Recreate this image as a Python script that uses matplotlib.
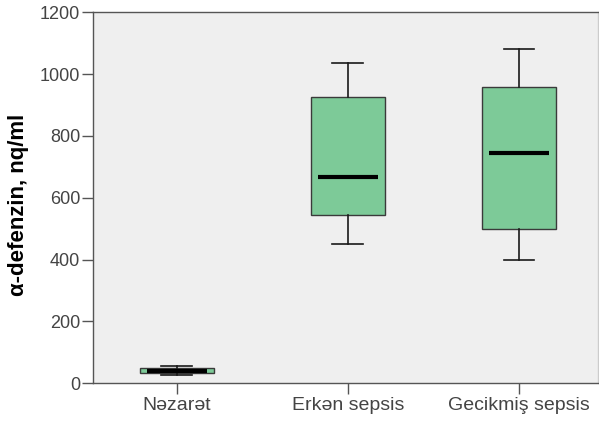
import matplotlib
matplotlib.use("Agg")
import matplotlib.pyplot as plt

plt.rcParams['font.family'] = ['Liberation Sans', 'DejaVu Sans']

groups = ["Nəzarət", "Erkən sepsis", "Gecikmiş sepsis"]
whislo = [26, 451, 399]
q1 = [33, 543, 498]
med = [40, 666, 745]
q3 = [48, 925, 958]
whishi = [57, 1037, 1082]
yticks = [0, 200, 400, 600, 800, 1000, 1200]

stats = []
for i in range(len(groups)):
    stats.append(dict(label=groups[i], whislo=whislo[i], q1=q1[i], med=med[i],
                      q3=q3[i], whishi=whishi[i], fliers=[]))

fig = plt.figure(figsize=(5.99, 4.22), dpi=100)
ax = fig.add_axes([0.155, 0.092, 0.843, 0.879])
ax.set_facecolor('#efefef')

pos = [1, 2, 3]
ax.bxp(stats, positions=pos, widths=0.43, capwidths=0.18, patch_artist=True,
       boxprops=dict(facecolor='#7dca98', edgecolor='#3a3a3a', linewidth=1),
       whiskerprops=dict(color='#1a1a1a', linewidth=1.2),
       capprops=dict(color='#1a1a1a', linewidth=1.2),
       medianprops=dict(linewidth=0))
# SPSS style median: slightly narrower than the box
ax.hlines(med, [p - 0.175 for p in pos], [p + 0.175 for p in pos],
          color='black', linewidth=3, zorder=5)

ax.set_xlim(0.51, 3.46)
ax.set_ylim(0, 1200)
ax.set_yticks(yticks)
ax.set_yticklabels([str(t) for t in yticks])
ax.set_xticks(pos)
ax.set_xticklabels(groups)
ax.tick_params(axis='y', length=8, width=1, color='#555555', labelsize=13,
               labelcolor='#444444', pad=1)
ax.tick_params(axis='x', length=8, width=1, color='#555555', labelsize=14,
               labelcolor='#444444', pad=2)
for s in ax.spines.values():
    s.set_color('#555555')
    s.set_linewidth(1)
ax.spines['right'].set_color('#cccccc')

ax.set_ylabel('α-defenzin, nq/ml', fontsize=16, fontweight='bold')
ax.yaxis.set_label_coords(-0.127, 0.48)

fig.savefig('out.png', dpi=100)
